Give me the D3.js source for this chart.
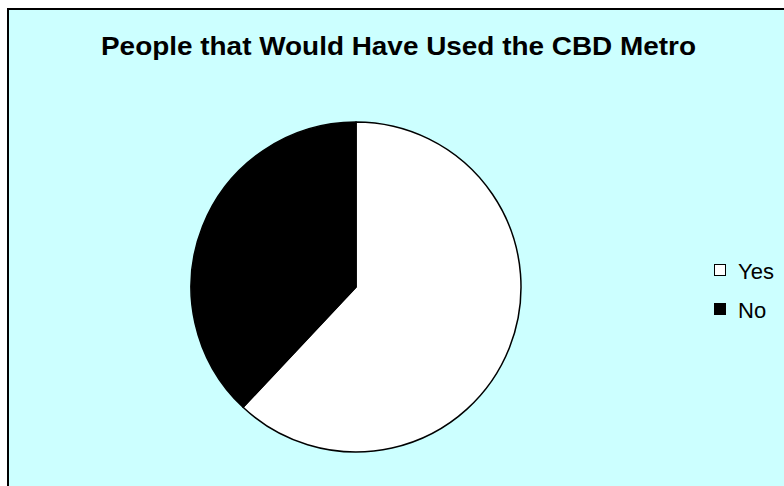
<!DOCTYPE html>
<html>
<head>
<meta charset="utf-8">
<script src="https://cdn.jsdelivr.net/npm/d3@7"></script>
<style>
  body { margin: 0; background: #fff; }
  svg { display: block; font-family: "Liberation Sans", Arial, sans-serif; }
</style>
</head>
<body>
<div id="chart"></div>
<script>
const title = 'People that Would Have Used the CBD Metro';
const categories = ['Yes', 'No'];
const values = [62, 38];
const colors = ['#ffffff', '#000000'];

const width = 784, height = 486;
const cx = 356, cy = 287, radius = 165;

const svg = d3.select('#chart')
  .append('svg')
  .attr('width', width)
  .attr('height', height);

// chart area (right / bottom edges fall outside the picture)
svg.append('rect')
  .attr('x', 8)
  .attr('y', 9)
  .attr('width', 820)
  .attr('height', 520)
  .attr('fill', '#ccffff')
  .attr('stroke', '#000')
  .attr('stroke-width', 2);

svg.append('text')
  .attr('x', 398.5)
  .attr('y', 55)
  .attr('text-anchor', 'middle')
  .attr('font-size', 25)
  .attr('font-weight', 'bold')
  .attr('textLength', 595)
  .attr('lengthAdjust', 'spacingAndGlyphs')
  .text(title);

const pie = d3.pie().sort(null).startAngle(0).endAngle(2 * Math.PI);
const arc = d3.arc().innerRadius(0).outerRadius(radius);
const color = d3.scaleOrdinal().domain(categories).range(colors);

const g = svg.append('g').attr('transform', `translate(${cx},${cy})`);
g.selectAll('path')
  .data(pie(values))
  .enter()
  .append('path')
  .attr('d', arc)
  .attr('fill', (d, i) => color(categories[i]))
  .attr('stroke', '#000')
  .attr('stroke-width', 1.5)
  .attr('stroke-linejoin', 'round');

// legend
const legend = svg.append('g').attr('transform', 'translate(714,264)');
const item = legend.selectAll('g')
  .data(categories)
  .enter()
  .append('g')
  .attr('transform', (d, i) => `translate(0,${i * 39})`);

item.append('rect')
  .attr('x', 0.5)
  .attr('y', 0.5)
  .attr('width', 11)
  .attr('height', 11)
  .attr('fill', d => color(d))
  .attr('stroke', '#000')
  .attr('stroke-width', 1);

item.append('text')
  .attr('x', 24)
  .attr('y', 15)
  .attr('font-size', 22)
  .text(d => d);
</script>
</body>
</html>
